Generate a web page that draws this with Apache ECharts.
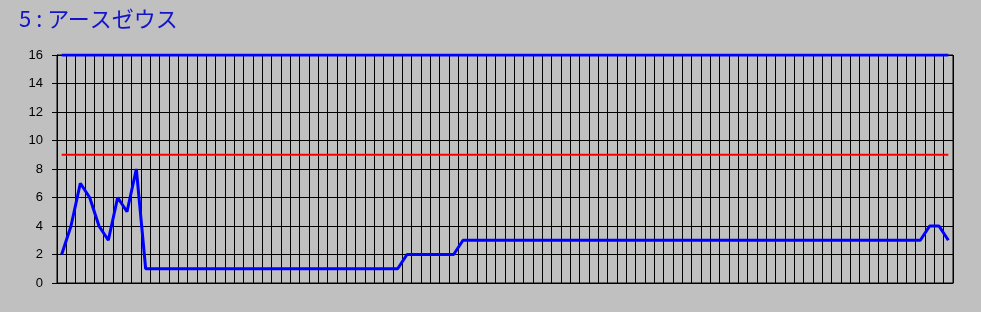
<!DOCTYPE html>
<html><head><meta charset="utf-8">
<script src="https://cdn.jsdelivr.net/npm/echarts@6/dist/echarts.min.js"></script>
<style>html,body{margin:0;padding:0;background:#c0c0c0;}#c{width:981px;height:312px;}</style>
</head><body><div id="c"></div>
<script>
const titleText = "5 : アースゼウス";
const yTicks = [0, 2, 4, 6, 8, 10, 12, 14, 16];
const mainValues = [2,4,7,6,4,3,6,5,8,
  1,1,1,1,1,1,1,1,1,1,1,1,1,1,1,1,1,1,1,1,1,1,1,1,1,1,1,1,
  2,2,2,2,2,2,
  3,3,3,3,3,3,3,3,3,3,3,3,3,3,3,3,3,3,3,3,3,3,3,3,3,3,3,3,3,3,3,3,3,3,3,3,3,3,3,3,3,3,3,3,3,3,3,3,3,3,
  4,4,3];
const maxValues = mainValues.map(() => 16);
const refValues = mainValues.map(() => 9);
const categories = mainValues.map((v, i) => String(i + 1));

const chart = echarts.init(document.getElementById('c'), null, {renderer: 'canvas'});
chart.setOption({
  backgroundColor: '#c0c0c0',
  animation: false,
  title: {
    text: titleText, left: 14, top: 3,
    textStyle: {color: '#1414c8', fontSize: 22, fontWeight: 'normal', fontFamily: '"Noto Sans CJK JP", sans-serif'}
  },
  grid: {left: 57, right: 28, top: 55, bottom: 29, show: true, borderColor: '#000', borderWidth: 1, backgroundColor: 'transparent'},
  xAxis: {
    type: 'category', data: categories, boundaryGap: true,
    axisLine: {show: true, lineStyle: {color: '#000', width: 1}},
    axisTick: {show: false}, axisLabel: {show: false},
    splitLine: {show: true, interval: 0, lineStyle: {color: '#000', width: 1}}
  },
  yAxis: {
    type: 'value', min: yTicks[0], max: yTicks[yTicks.length - 1], interval: 2,
    axisLine: {show: true, lineStyle: {color: '#000', width: 1}},
    axisTick: {show: true, length: 5, lineStyle: {color: '#000'}},
    axisLabel: {margin: 14, color: '#000', fontSize: 13, fontFamily: '"Liberation Sans", Arial, sans-serif'},
    splitLine: {show: true, lineStyle: {color: '#000', width: 1}}
  },
  series: [
    {type: 'line', data: maxValues, symbol: 'none', lineStyle: {color: '#0000ff', width: 3}, z: 3},
    {type: 'line', data: refValues, symbol: 'none', lineStyle: {color: '#ff0000', width: 2}, z: 3},
    {type: 'line', data: mainValues, symbol: 'none', lineStyle: {color: '#0000ff', width: 3}, z: 4}
  ]
});
</script></body></html>
